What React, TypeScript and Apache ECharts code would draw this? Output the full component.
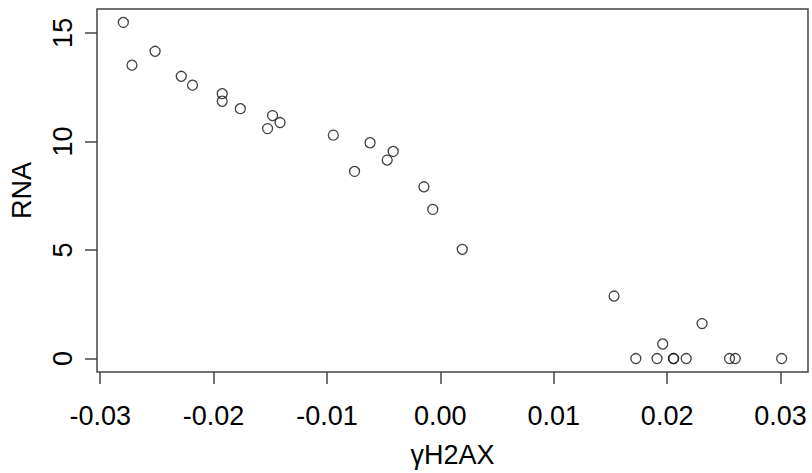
import React, { useEffect, useRef } from "react";
import * as echarts from "echarts";

const xValues = [
  -0.02796, -0.0272, -0.02516, -0.02285, -0.02186, -0.01924, -0.01924, -0.01764,
  -0.0148, -0.01524, -0.01414, -0.00944, -0.0062, -0.00757, -0.00469, -0.00416,
  -0.00145, -0.00067, 0.00193, 0.01532, 0.02308, 0.01961, 0.01724, 0.01911,
  0.02055, 0.02058, 0.02168, 0.0255, 0.02601, 0.0301,
];
const yValues = [
  15.48, 13.51, 14.15, 13.0, 12.59, 12.2, 11.85, 11.51, 11.19, 10.59, 10.87,
  10.29, 9.94, 8.62, 9.14, 9.54, 7.91, 6.87, 5.03, 2.88, 1.61, 0.67, 0, 0, 0, 0,
  0, 0, 0, 0,
];
const xTicks = [-0.03, -0.02, -0.01, 0, 0.01, 0.02, 0.03];
const xTickLabels = ["-0.03", "-0.02", "-0.01", "0.00", "0.01", "0.02", "0.03"];
const yTicks = [0, 5, 10, 15];
const yTickLabels = ["0", "5", "10", "15"];
const xTitle = "γH2AX";
const yTitle = "RNA";

function extend(vals: number[]) {
  const lo = Math.min(...vals);
  const hi = Math.max(...vals);
  const pad = (hi - lo) * 0.04;
  return [lo - pad, hi + pad];
}

export default function App() {
  const ref = useRef<HTMLDivElement>(null);
  useEffect(() => {
    if (!ref.current) return;
    const chart = echarts.init(ref.current, null, { renderer: "svg" });
    const [xmin, xmax] = extend(xValues);
    const [ymin, ymax] = extend(yValues);
    const font = "'Liberation Sans', Arial, sans-serif";
    const axisColor = "#444";
    const fs = 27;
    chart.setOption({
      animation: false,
      backgroundColor: "#fff",
      textStyle: { fontFamily: font },
      grid: {
        left: 92,
        right: 4,
        top: 9,
        bottom: 100,
        show: true,
        borderColor: axisColor,
        borderWidth: 1.5,
        backgroundColor: "transparent",
      },
      xAxis: {
        type: "value",
        min: xmin,
        max: xmax,
        name: xTitle,
        nameLocation: "middle",
        nameGap: 69,
        nameTextStyle: { fontSize: fs, color: "#000", fontFamily: font },
        axisLine: { show: false, onZero: false },
        splitLine: { show: false },
        axisTick: {
          show: true,
          length: 12,
          inside: false,
          customValues: xTicks,
          lineStyle: { color: axisColor, width: 1.5 },
        },
        axisLabel: {
          customValues: xTicks,
          margin: 30,
          fontSize: fs,
          color: "#000",
          fontFamily: font,
          formatter: (v: number) => {
            const i = xTicks.findIndex((t) => Math.abs(t - v) < 1e-9);
            return i >= 0 ? xTickLabels[i] : "";
          },
        },
      },
      yAxis: {
        type: "value",
        min: ymin,
        max: ymax,
        name: yTitle,
        nameLocation: "middle",
        nameRotate: 90,
        nameGap: 62,
        nameTextStyle: { fontSize: fs, color: "#000", fontFamily: font },
        axisLine: { show: false, onZero: false },
        splitLine: { show: false },
        axisTick: {
          show: true,
          length: 12,
          inside: false,
          customValues: yTicks,
          lineStyle: { color: axisColor, width: 1.5 },
        },
        axisLabel: {
          customValues: yTicks,
          rotate: 90,
          margin: 21,
          fontSize: fs,
          color: "#000",
          fontFamily: font,
          formatter: (v: number) => {
            const i = yTicks.findIndex((t) => Math.abs(t - v) < 1e-9);
            return i >= 0 ? yTickLabels[i] : "";
          },
        },
      },
      series: [
        {
          type: "scatter",
          data: xValues.map((x, i) => [x, yValues[i]]),
          symbol: "circle",
          symbolSize: 10,
          itemStyle: {
            color: "rgba(0,0,0,0)",
            borderColor: "#111",
            borderWidth: 1.3,
          },
          emphasis: { disabled: true },
        },
      ],
    });
    return () => chart.dispose();
  }, []);
  return (
    <div
      ref={ref}
      style={{ position: "fixed", left: 0, top: 0, width: 812, height: 473 }}
    />
  );
}
